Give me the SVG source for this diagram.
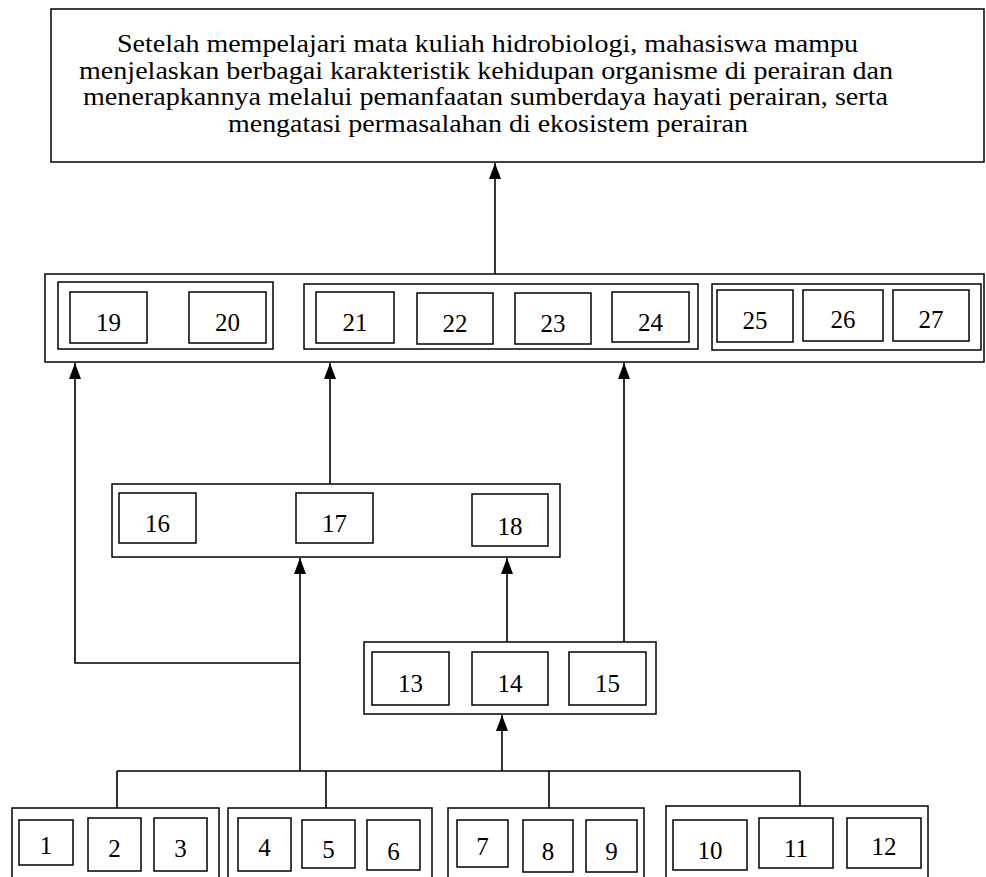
<svg xmlns="http://www.w3.org/2000/svg" width="986" height="877" viewBox="0 0 986 877">
<defs>
<style>
.b{fill:#fff;stroke:#000;stroke-width:1.5}
.g{fill:none;stroke:#000;stroke-width:1.5}
.t{font-family:"Liberation Serif","Times New Roman",serif;font-size:25px;fill:#000}
.n{font-family:"Liberation Serif","Times New Roman",serif;font-size:25px;fill:#000;text-anchor:middle}
.c{fill:none;stroke:#000;stroke-width:1.6}
</style>
<marker id="arr" viewBox="0 0 16 12" refX="16" refY="6" markerWidth="16" markerHeight="12" markerUnits="userSpaceOnUse" orient="auto">
<path d="M0,0 L16,6 L0,12 z" fill="#000"/>
</marker>
</defs>
<rect width="986" height="877" fill="#fff"/>

<g id="goal">
<rect class="b" x="51" y="9" width="933" height="153"/>
<text class="t" x="117" y="52" textLength="741" lengthAdjust="spacingAndGlyphs">Setelah mempelajari mata kuliah hidrobiologi, mahasiswa mampu</text>
<text class="t" x="79" y="78.7" textLength="814" lengthAdjust="spacingAndGlyphs">menjelaskan berbagai karakteristik kehidupan organisme di perairan dan</text>
<text class="t" x="83" y="105.4" textLength="805" lengthAdjust="spacingAndGlyphs">menerapkannya melalui pemanfaatan sumberdaya hayati perairan, serta</text>
<text class="t" x="228" y="132" textLength="520" lengthAdjust="spacingAndGlyphs">mengatasi permasalahan di ekosistem perairan</text>
</g>

<g id="row19-27">
<rect class="b" x="45" y="274" width="939" height="88"/>
</g>
<g id="grp19-20">
<rect class="g" x="58" y="282" width="215" height="67"/>
</g>
<g id="n19"><rect class="b" x="70" y="292" width="77" height="51"/><text class="n" x="108.5" y="331">19</text></g>
<g id="n20"><rect class="b" x="189" y="292" width="77" height="51"/><text class="n" x="227.5" y="331">20</text></g>
<g id="grp21-24">
<rect class="g" x="304" y="284" width="394" height="65"/>
</g>
<g id="n21"><rect class="b" x="316" y="292" width="78" height="51"/><text class="n" x="355" y="331">21</text></g>
<g id="n22"><rect class="b" x="417" y="293" width="76" height="51"/><text class="n" x="455" y="332">22</text></g>
<g id="n23"><rect class="b" x="515" y="293" width="76" height="51"/><text class="n" x="553" y="332">23</text></g>
<g id="n24"><rect class="b" x="612" y="292" width="77" height="50"/><text class="n" x="650.5" y="331">24</text></g>
<g id="grp25-27">
<rect class="g" x="712" y="284" width="269" height="66"/>
</g>
<g id="n25"><rect class="b" x="717" y="290" width="76" height="52"/><text class="n" x="755" y="329">25</text></g>
<g id="n26"><rect class="b" x="803" y="290" width="80" height="51"/><text class="n" x="843" y="328">26</text></g>
<g id="n27"><rect class="b" x="893" y="290" width="76" height="51"/><text class="n" x="931" y="328">27</text></g>

<g id="grp16-18">
<rect class="b" x="112" y="484" width="448" height="73"/>
</g>
<g id="n16"><rect class="b" x="119" y="493" width="77" height="50"/><text class="n" x="157.5" y="532">16</text></g>
<g id="n17"><rect class="b" x="296" y="493" width="77" height="50"/><text class="n" x="334.5" y="532">17</text></g>
<g id="n18"><rect class="b" x="472" y="494" width="76" height="52"/><text class="n" x="510" y="535">18</text></g>

<g id="grp13-15">
<rect class="b" x="364" y="642" width="292" height="72"/>
</g>
<g id="n13"><rect class="b" x="372" y="652" width="77" height="53"/><text class="n" x="410.5" y="692">13</text></g>
<g id="n14"><rect class="b" x="472" y="652" width="76" height="53"/><text class="n" x="510" y="692">14</text></g>
<g id="n15"><rect class="b" x="569" y="652" width="77" height="53"/><text class="n" x="607.5" y="692">15</text></g>

<g id="grp1-3"><rect class="b" x="12" y="808" width="207" height="80"/></g>
<g id="n1"><rect class="b" x="19" y="820" width="54" height="45"/><text class="n" x="46" y="854">1</text></g>
<g id="n2"><rect class="b" x="88" y="818" width="53" height="53"/><text class="n" x="114.5" y="857">2</text></g>
<g id="n3"><rect class="b" x="154" y="818" width="53" height="53"/><text class="n" x="180.5" y="857">3</text></g>
<g id="grp4-6"><rect class="b" x="228" y="808" width="204" height="80"/></g>
<g id="n4"><rect class="b" x="238" y="818" width="53" height="53"/><text class="n" x="264.5" y="856">4</text></g>
<g id="n5"><rect class="b" x="302" y="820" width="53" height="48"/><text class="n" x="328.5" y="858">5</text></g>
<g id="n6"><rect class="b" x="367" y="820" width="53" height="50"/><text class="n" x="393.5" y="860">6</text></g>
<g id="grp7-9"><rect class="b" x="448" y="808" width="196" height="80"/></g>
<g id="n7"><rect class="b" x="457" y="820" width="51" height="47"/><text class="n" x="482.5" y="855">7</text></g>
<g id="n8"><rect class="b" x="523" y="820" width="50" height="52"/><text class="n" x="548" y="860">8</text></g>
<g id="n9"><rect class="b" x="586" y="820" width="51" height="52"/><text class="n" x="611.5" y="860">9</text></g>
<g id="grp10-12"><rect class="b" x="666" y="806" width="262" height="82"/></g>
<g id="n10"><rect class="b" x="673" y="820" width="74" height="50"/><text class="n" x="710" y="859">10</text></g>
<g id="n11"><rect class="b" x="759" y="818" width="74" height="50"/><text class="n" x="796" y="857">11</text></g>
<g id="n12"><rect class="b" x="847" y="818" width="74" height="50"/><text class="n" x="884" y="855">12</text></g>

<g id="connectors">
<line class="c" x1="495" y1="274" x2="495" y2="163" marker-end="url(#arr)"/>
<polyline class="c" points="300,663 75,663 75,363" marker-end="url(#arr)"/>
<line class="c" x1="300" y1="771" x2="300" y2="558" marker-end="url(#arr)"/>
<line class="c" x1="330" y1="484" x2="330" y2="363" marker-end="url(#arr)"/>
<line class="c" x1="507" y1="642" x2="507" y2="558" marker-end="url(#arr)"/>
<line class="c" x1="624" y1="642" x2="624" y2="363" marker-end="url(#arr)"/>
<line class="c" x1="502" y1="771" x2="502" y2="715" marker-end="url(#arr)"/>
<line class="c" x1="117" y1="771" x2="800" y2="771"/>
<line class="c" x1="117" y1="771" x2="117" y2="808"/>
<line class="c" x1="326" y1="771" x2="326" y2="808"/>
<line class="c" x1="549" y1="771" x2="549" y2="808"/>
<line class="c" x1="800" y1="771" x2="800" y2="806"/>
</g>
</svg>
